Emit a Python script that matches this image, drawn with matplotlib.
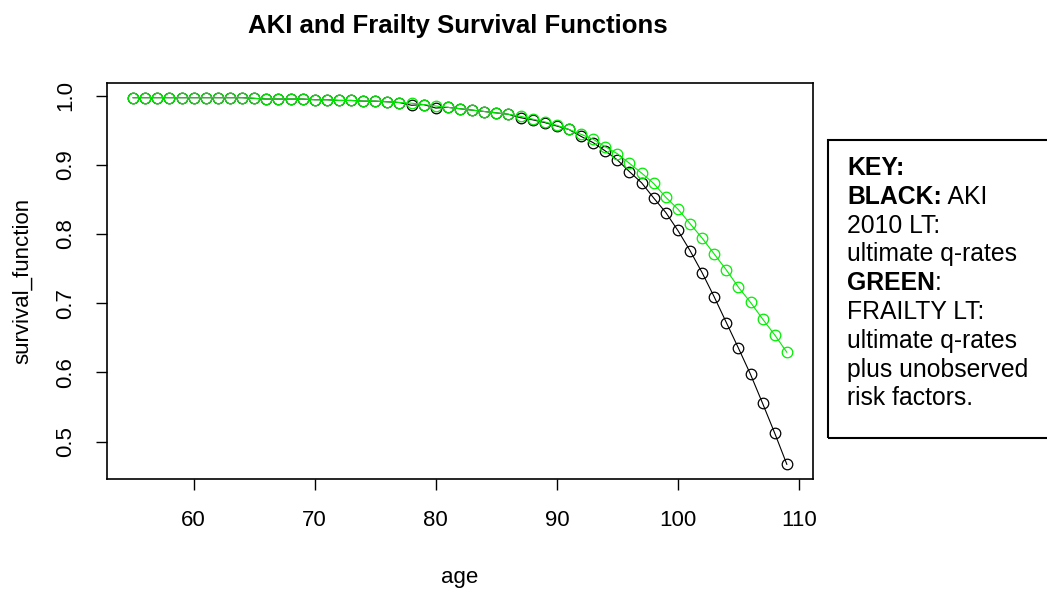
import matplotlib
matplotlib.use("Agg")
import matplotlib.pyplot as plt
from matplotlib.patches import Rectangle

# ages 55..109
ages = list(range(55, 110))

# AKI 2010 LT, ultimate q-rates (black)
aki_surv = [
    0.997, 0.997, 0.997, 0.997, 0.997, 0.997, 0.997, 0.997, 0.997, 0.997,
    0.996, 0.995, 0.995, 0.995, 0.995, 0.994, 0.994, 0.993, 0.993, 0.992,
    0.992, 0.991, 0.990, 0.986, 0.987, 0.982, 0.983, 0.981, 0.979, 0.977,
    0.975, 0.973, 0.968, 0.965, 0.961, 0.956, 0.951, 0.941, 0.932, 0.920,
    0.907, 0.890, 0.874, 0.852, 0.831, 0.805, 0.776, 0.744, 0.709, 0.672,
    0.635, 0.597, 0.555, 0.512, 0.467,
]

# Frailty LT (green)
frailty_surv = [
    0.997, 0.997, 0.997, 0.997, 0.997, 0.997, 0.997, 0.997, 0.997, 0.997,
    0.996, 0.995, 0.995, 0.995, 0.995, 0.994, 0.994, 0.993, 0.993, 0.992,
    0.992, 0.991, 0.990, 0.989, 0.987, 0.985, 0.983, 0.981, 0.979, 0.977,
    0.975, 0.973, 0.970, 0.966, 0.962, 0.957, 0.951, 0.944, 0.937, 0.926,
    0.916, 0.902, 0.888, 0.873, 0.853, 0.836, 0.815, 0.794, 0.771, 0.748,
    0.723, 0.701, 0.677, 0.654, 0.629,
]

xticks = [60, 70, 80, 90, 100, 110]
yticks = [0.5, 0.6, 0.7, 0.8, 0.9, 1.0]

FONT = ["Liberation Sans", "DejaVu Sans"]

W, H = 1047, 595
fig = plt.figure(figsize=(W / 100, H / 100), dpi=100)
ax = fig.add_axes([107 / W, 1 - 479 / H, (813 - 107) / W, (479 - 83) / H])

mk = dict(marker="o", markersize=7.6, markerfacecolor="none", markeredgewidth=0.9, linewidth=0.8)
ax.plot(ages, aki_surv, color="black", **mk)
ax.plot(ages, frailty_surv, color="#00ee00", **mk)

# R style 4% padding
x0, x1 = min(ages), max(ages)
y0, y1 = min(aki_surv + frailty_surv), max(aki_surv + frailty_surv)
ax.set_xlim(x0 - 0.04 * (x1 - x0), x1 + 0.04 * (x1 - x0))
ax.set_ylim(y0 - 0.04 * (y1 - y0), y1 + 0.04 * (y1 - y0))

ax.set_xticks(xticks)
ax.set_xticklabels([str(t) for t in xticks], family=FONT, fontsize=16)
ax.set_yticks(yticks)
ax.set_yticklabels([f"{t:.1f}" for t in yticks], family=FONT, fontsize=16,
                   rotation=90, va="center")
ax.tick_params(direction="out", length=8, width=1, pad=14)
for s in ax.spines.values():
    s.set_linewidth(1.2)

ax.set_xlabel("age", family=FONT, fontsize=16, labelpad=26)
ax.set_ylabel("survival_function", family=FONT, fontsize=16, labelpad=16)
fig.text(458 / W, 1 - 26 / H, "AKI and Frailty Survival Functions", family=FONT,
         fontsize=18.5, fontweight="bold", ha="center", va="center")

# key box
fig.patches.append(Rectangle((828 / W, 1 - 438 / H), 300 / W, 298 / H,
                             transform=fig.transFigure, fill=False,
                             edgecolor="black", linewidth=1.5))

key_lines = [
    ("KEY:", ""),
    ("BLACK:", " AKI"),
    ("", "2010 LT:"),
    ("", "ultimate q-rates"),
    ("GREEN", ":"),
    ("", "FRAILTY LT:"),
    ("", "ultimate q-rates"),
    ("", "plus unobserved"),
    ("", "risk factors."),
]
ksize = 17.8
ytop = 168
for i, (b, r) in enumerate(key_lines):
    y = 1 - (ytop + i * 28.8) / H
    if b:
        t = fig.text(847 / W, y, b, family=FONT, fontsize=ksize, fontweight="bold",
                     ha="left", va="center")
        if r:
            ax.annotate(r, xy=(1, 0.5), xycoords=t, family=FONT, fontsize=ksize,
                        ha="left", va="center", annotation_clip=False)
    else:
        fig.text(847 / W, y, r, family=FONT, fontsize=ksize, ha="left", va="center")

fig.savefig("out.png", dpi=100)
